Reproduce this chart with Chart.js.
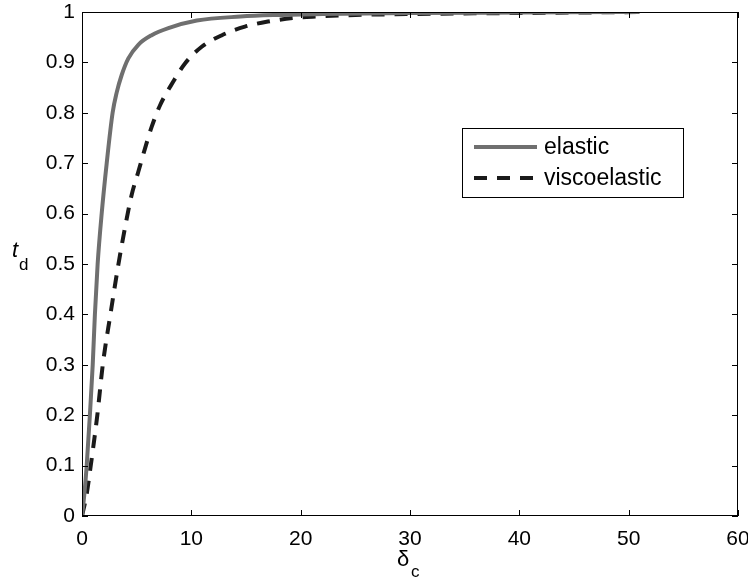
<!DOCTYPE html>
<html lang="en">
<head>
    <meta charset="UTF-8">
    <title>t_d vs delta_c</title>
    <script src="https://cdn.jsdelivr.net/npm/chart.js"></script>
    <style>
        * { margin: 0; padding: 0; box-sizing: border-box; }
        body { background: #fff; width: 748px; height: 585px; overflow: hidden; }
        #wrap { position: relative; width: 748px; height: 585px; }
    </style>
</head>
<body>
    <div id="wrap"><canvas id="chart"></canvas></div>

    <script>
        // values
        const elasticX = [0, 0.2, 0.43, 0.72, 0.98, 1.18, 1.43, 1.8, 2.26, 2.8, 3.17, 3.63, 4.24, 5.15, 6.37, 7.9, 10.5, 14.5, 17.5, 22, 30, 40, 51];
        const elasticY = [0, 0.04, 0.1, 0.2, 0.3, 0.4, 0.5, 0.6, 0.7, 0.8, 0.84, 0.875, 0.908, 0.935, 0.954, 0.968, 0.983, 0.991, 0.994, 0.996, 0.998, 0.999, 1.0];

        const viscoX = [0, 0.4, 0.8, 1.4, 1.9, 2.6, 3.32, 4.09, 4.54, 5.15, 5.76, 6.37, 7.14, 8.35, 9.42, 10.95, 12.8, 14.9, 17.0, 19.3, 21.5, 25, 30, 40, 51];
        const viscoY = [0, 0.04, 0.1, 0.2, 0.3, 0.4, 0.498, 0.59, 0.637, 0.683, 0.729, 0.772, 0.815, 0.862, 0.898, 0.931, 0.954, 0.971, 0.981, 0.988, 0.991, 0.994, 0.996, 0.998, 1.0];

        const xTicks = [0, 10, 20, 30, 40, 50, 60];
        const yTicks = [0, 0.1, 0.2, 0.3, 0.4, 0.5, 0.6, 0.7, 0.8, 0.9, 1];

        const FONT = 'Liberation Sans, Arial, Helvetica, sans-serif';

        const pts = (xs, ys) => xs.map((x, i) => ({ x: x, y: ys[i] }));

        // box, inward ticks, axis titles and legend, MATLAB style
        const matlabFrame = {
            id: 'matlabFrame',
            afterDraw(chart) {
                const ctx = chart.ctx;
                const a = chart.chartArea;
                const xs = chart.scales.x, ys = chart.scales.y;
                ctx.save();
                ctx.strokeStyle = '#000';
                ctx.lineWidth = 1;
                ctx.strokeRect(a.left + 0.5, a.top + 0.5, a.right - a.left - 1, a.bottom - a.top - 1);
                ctx.beginPath();
                xTicks.forEach(v => {
                    const px = Math.round(xs.getPixelForValue(v)) + 0.5;
                    ctx.moveTo(px, a.bottom); ctx.lineTo(px, a.bottom - 6);
                    ctx.moveTo(px, a.top); ctx.lineTo(px, a.top + 6);
                });
                yTicks.forEach(v => {
                    const py = Math.round(ys.getPixelForValue(v)) + 0.5;
                    ctx.moveTo(a.left, py); ctx.lineTo(a.left + 6, py);
                    ctx.moveTo(a.right, py); ctx.lineTo(a.right - 6, py);
                });
                ctx.stroke();

                // axis titles
                ctx.fillStyle = '#000';
                ctx.textBaseline = 'alphabetic';
                ctx.textAlign = 'left';
                ctx.font = '22px ' + FONT;
                ctx.fillText('δ', 397, 566);
                ctx.font = '17px ' + FONT;
                ctx.fillText('c', 411, 577);
                ctx.font = 'italic 22px ' + FONT;
                ctx.fillText('t', 12, 257);
                ctx.font = '17px ' + FONT;
                ctx.fillText('d', 19, 270);

                // legend
                const lx = 462, ly = 128, lw = 221, lh = 69;
                ctx.fillStyle = '#fff';
                ctx.fillRect(lx, ly, lw, lh);
                ctx.strokeStyle = '#000';
                ctx.lineWidth = 1;
                ctx.strokeRect(lx + 0.5, ly + 0.5, lw, lh);
                chart.data.datasets.forEach((ds, i) => {
                    const cy = ly + 19 + i * 31;
                    ctx.beginPath();
                    ctx.strokeStyle = ds.borderColor;
                    ctx.lineWidth = ds.borderWidth;
                    ctx.setLineDash(ds.borderDash || []);
                    ctx.moveTo(lx + 12, cy);
                    ctx.lineTo(lx + 75, cy);
                    ctx.stroke();
                    ctx.setLineDash([]);
                    ctx.fillStyle = '#000';
                    ctx.font = '23px ' + FONT;
                    ctx.textBaseline = 'middle';
                    ctx.fillText(ds.label, lx + 82, cy + 1);
                });
                ctx.restore();
            }
        };

        new Chart(document.getElementById('chart'), {
            type: 'line',
            data: {
                datasets: [
                    {
                        label: 'elastic',
                        data: pts(elasticX, elasticY),
                        borderColor: '#6f6f6f',
                        borderWidth: 4,
                        pointRadius: 0,
                        cubicInterpolationMode: 'monotone',
                        fill: false
                    },
                    {
                        label: 'viscoelastic',
                        data: pts(viscoX, viscoY),
                        borderColor: '#1a1a1a',
                        borderWidth: 4,
                        borderDash: [13, 10],
                        pointRadius: 0,
                        cubicInterpolationMode: 'monotone',
                        fill: false
                    }
                ]
            },
            options: {
                responsive: true,
                maintainAspectRatio: false,
                animation: false,
                layout: { padding: { left: 0, right: 10, top: 12, bottom: 0 } },
                plugins: { legend: { display: false }, tooltip: { enabled: false } },
                scales: {
                    x: {
                        type: 'linear',
                        min: 0, max: 60,
                        afterBuildTicks: s => { s.ticks = xTicks.map(v => ({ value: v })); },
                        afterFit: s => { s.height = 69; s.paddingLeft = 0; s.paddingRight = 0; },
                        grid: { display: false, drawTicks: false },
                        border: { display: false },
                        ticks: { color: '#000', font: { size: 21, family: FONT }, padding: 11, maxRotation: 0 }
                    },
                    y: {
                        min: 0, max: 1,
                        afterBuildTicks: s => { s.ticks = yTicks.map(v => ({ value: v })); },
                        afterFit: s => { s.width = 82; s.paddingTop = 0; s.paddingBottom = 0; },
                        grid: { display: false, drawTicks: false },
                        border: { display: false },
                        ticks: { color: '#000', font: { size: 21, family: FONT }, padding: 7,
                                 callback: v => String(Math.round(v * 10) / 10) }
                    }
                }
            },
            plugins: [matlabFrame]
        });
    </script>
</body>
</html>
